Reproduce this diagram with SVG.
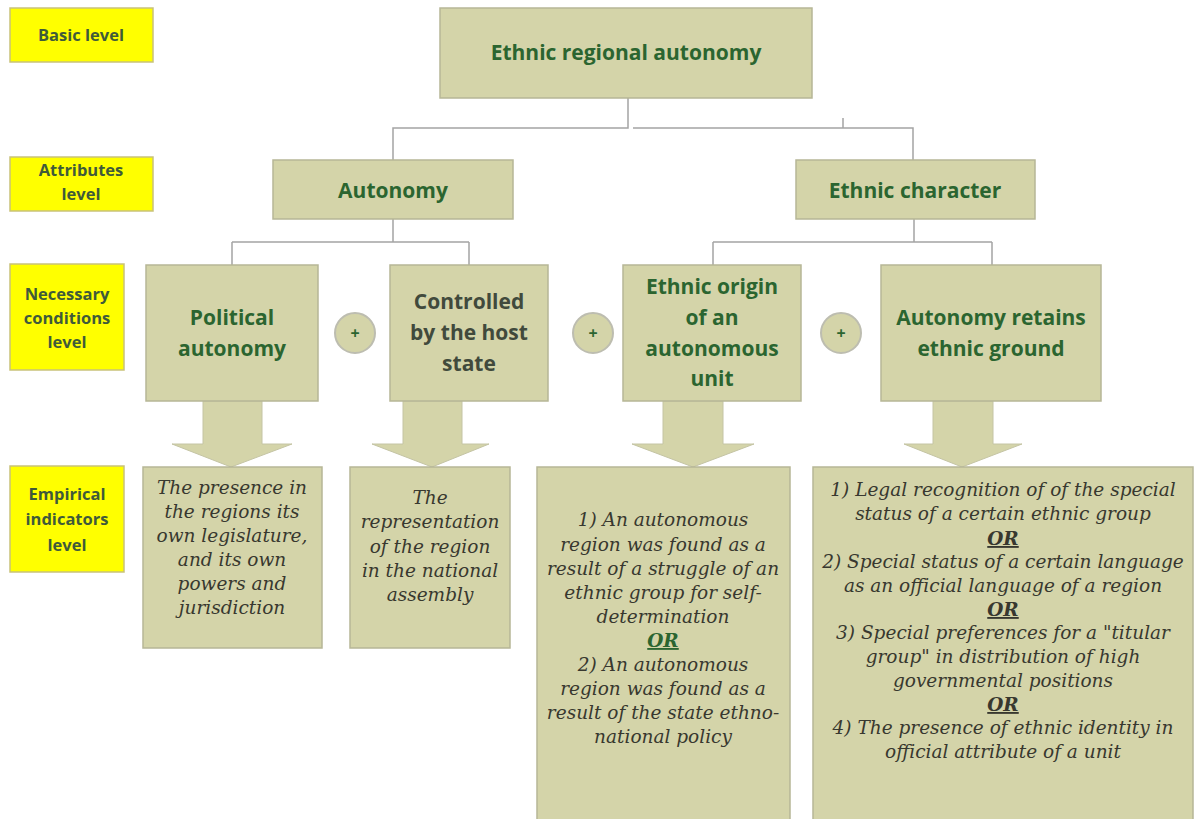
<svg xmlns="http://www.w3.org/2000/svg" width="1195" height="819" viewBox="0 0 1195 819">
<style>
.lvl{fill:#ffff00;stroke:#c9c27a;stroke-width:1.5}
.lt{font-family:"Open Sans",Lato,"Liberation Sans",sans-serif;font-weight:bold;font-size:16.5px;fill:#3f5a3a;text-anchor:middle}
.box{fill:#d4d4a9;stroke:#b6b697;stroke-width:1.5}
.nt{font-family:"Open Sans",Lato,"Liberation Sans",sans-serif;font-weight:bold;font-size:21px;fill:#2b6530;text-anchor:middle}
.gray{fill:#414a3c}
.et{font-family:"DejaVu Serif","Liberation Serif",serif;font-style:italic;font-size:18.5px;fill:#38382f;text-anchor:middle}
.or{font-weight:bold;text-decoration:underline}
.con{fill:none;stroke:#a4a4a4;stroke-width:1.5}
.arr{fill:#d4d4a9;stroke:#c4c4a4;stroke-width:1}
.plus{fill:#d4d4a9;stroke:#bdbdb0;stroke-width:2}
.pt{font-family:"Open Sans",Lato,"Liberation Sans",sans-serif;font-weight:bold;font-size:16px;fill:#2b6530;text-anchor:middle}
</style>

<g id="level-basic"><rect class="lvl" x="10" y="8" width="143" height="54"/><text class="lt" x="81" y="41">Basic level</text></g>
<g id="level-attributes"><rect class="lvl" x="10" y="157" width="143" height="54"/><text class="lt" x="81" y="176">Attributes</text><text class="lt" x="81" y="200">level</text></g>
<g id="level-necessary"><rect class="lvl" x="10" y="264" width="114" height="106"/><text class="lt" x="67" y="300">Necessary</text><text class="lt" x="67" y="324">conditions</text><text class="lt" x="67" y="348">level</text></g>
<g id="level-empirical"><rect class="lvl" x="10" y="466" width="114" height="106"/><text class="lt" x="67" y="500">Empirical</text><text class="lt" x="67" y="525">indicators</text><text class="lt" x="67" y="551">level</text></g>

<g id="connectors">
<path class="con" d="M628,98 V128 H393 V160 M633,128 H913 V160 M843,118 V128"/>
<path class="con" d="M393,219 V242 M232,242 H469 M232,242 V265 M469,242 V265"/>
<path class="con" d="M914,219 V242 M713,242 H992 M713,242 V265 M992,242 V265"/>
<path class="arr" d="M203,401 H262 V444 H292 L231,467 L172,444 H203 Z"/>
<path class="arr" d="M403,401 H462 V444 H489 L432,467 L372,444 H403 Z"/>
<path class="arr" d="M663,401 H723 V444 H754 L693,467 L632,444 H663 Z"/>
<path class="arr" d="M933,401 H993 V444 H1022 L962,467 L904,444 H933 Z"/>
</g>

<g id="n-root"><rect class="box" x="440" y="8" width="372" height="90"/><text class="nt" x="626" y="60">Ethnic regional autonomy</text></g>
<g id="n-autonomy"><rect class="box" x="273" y="160" width="240" height="59"/><text class="nt" x="393" y="198">Autonomy</text></g>
<g id="n-ethnic"><rect class="box" x="796" y="160" width="239" height="59"/><text class="nt" x="915" y="198">Ethnic character</text></g>

<g id="n-political"><rect class="box" x="146" y="265" width="172" height="136"/><text class="nt" x="232" y="325">Political</text><text class="nt" x="232" y="356">autonomy</text></g>
<g id="n-controlled"><rect class="box" x="390" y="265" width="158" height="136"/><text class="nt gray" x="469" y="309">Controlled</text><text class="nt gray" x="469" y="340">by the host</text><text class="nt gray" x="469" y="371">state</text></g>
<g id="n-origin"><rect class="box" x="623" y="265" width="178" height="136"/><text class="nt" x="712" y="294">Ethnic origin</text><text class="nt" x="712" y="325">of an</text><text class="nt" x="712" y="356">autonomous</text><text class="nt" x="712" y="386">unit</text></g>
<g id="n-retains"><rect class="box" x="881" y="265" width="220" height="136"/><text class="nt" x="991" y="325">Autonomy retains</text><text class="nt" x="991" y="356">ethnic ground</text></g>

<g id="plus1"><circle class="plus" cx="355" cy="333" r="20"/><text class="pt" x="355" y="339">+</text></g>
<g id="plus2"><circle class="plus" cx="593" cy="333" r="20"/><text class="pt" x="593" y="339">+</text></g>
<g id="plus3"><circle class="plus" cx="841" cy="333" r="20"/><text class="pt" x="841" y="339">+</text></g>

<g id="e-political"><rect class="box" x="143" y="467" width="179" height="181"/>
<text class="et" x="232" y="494">The presence in</text><text class="et" x="232" y="518">the regions its</text><text class="et" x="232" y="542">own legislature,</text><text class="et" x="232" y="566">and its own</text><text class="et" x="232" y="590">powers and</text><text class="et" x="232" y="614">jurisdiction</text></g>
<g id="e-controlled"><rect class="box" x="350" y="467" width="160" height="181"/>
<text class="et" x="430" y="504">The</text><text class="et" x="430" y="528">representation</text><text class="et" x="430" y="553">of the region</text><text class="et" x="430" y="577">in the national</text><text class="et" x="430" y="601">assembly</text></g>
<g id="e-origin"><rect class="box" x="537" y="467" width="253" height="360"/>
<text class="et" x="663" y="526">1) An autonomous</text><text class="et" x="663" y="551">region was found as a</text><text class="et" x="663" y="575">result of a struggle of an</text><text class="et" x="663" y="599">ethnic group for self-</text><text class="et" x="663" y="623">determination</text><text class="et or" x="663" y="647" style="fill:#2b6530">OR</text><text class="et" x="663" y="671">2) An autonomous</text><text class="et" x="663" y="695">region was found as a</text><text class="et" x="663" y="719">result of the state ethno-</text><text class="et" x="663" y="743">national policy</text></g>
<g id="e-retains"><rect class="box" x="813" y="467" width="380" height="360"/>
<text class="et" x="1003" y="496">1) Legal recognition of of the special</text><text class="et" x="1003" y="520">status of a certain ethnic group</text><text class="et or" x="1003" y="545">OR</text><text class="et" x="1003" y="568">2) Special status of a certain language</text><text class="et" x="1003" y="592">as an official language of a region</text><text class="et or" x="1003" y="616">OR</text><text class="et" x="1003" y="639">3) Special preferences for a "titular</text><text class="et" x="1003" y="663">group" in distribution of high</text><text class="et" x="1003" y="687">governmental positions</text><text class="et or" x="1003" y="711">OR</text><text class="et" x="1003" y="734">4) The presence of ethnic identity in</text><text class="et" x="1003" y="758">official attribute of a unit</text></g>
</svg>
